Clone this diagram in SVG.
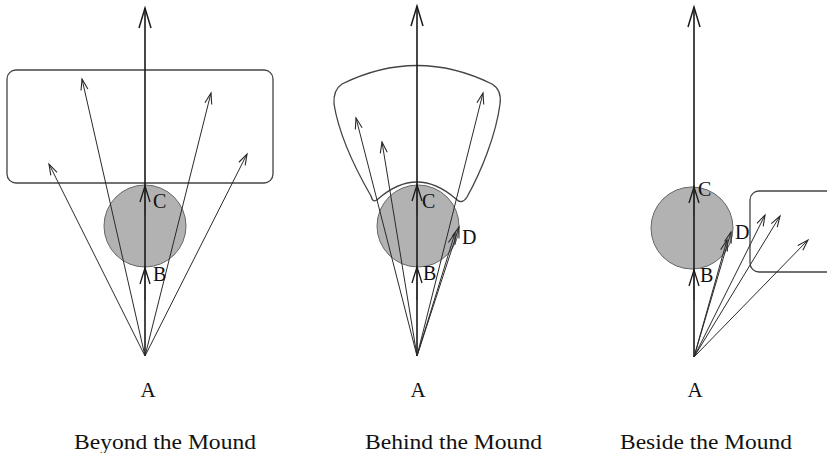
<svg xmlns="http://www.w3.org/2000/svg" width="827" height="453" viewBox="0 0 827 453">
<style>
.ln{stroke:#2a2a2a;stroke-width:1;fill:none}
.main{stroke:#1a1a1a;stroke-width:1.6;fill:none}
.reg{stroke:#444;stroke-width:1.3;fill:none}
.mound{fill:#b2b2b2;stroke:#666;stroke-width:1}
.lbl{font-family:"Liberation Serif","Times New Roman",serif;font-size:20px;fill:#111}
.big{font-family:"Liberation Serif","Times New Roman",serif;font-size:21px;fill:#111}
.cap{font-family:"Liberation Serif","Times New Roman",serif;font-size:21px;fill:#111}
</style>
<defs>
<marker id="big" markerUnits="userSpaceOnUse" markerWidth="24" markerHeight="14" refX="20" refY="6" orient="auto" overflow="visible">
<path d="M0,0 L20,6 L0,12" fill="none" stroke="#1a1a1a" stroke-width="1.5"/>
</marker>
<marker id="mid" markerUnits="userSpaceOnUse" markerWidth="20" markerHeight="12" refX="16" refY="5" orient="auto" overflow="visible">
<path d="M0,0 L16,5 L0,10" fill="none" stroke="#1a1a1a" stroke-width="1.3"/>
</marker>
<marker id="sm" markerUnits="userSpaceOnUse" markerWidth="14" markerHeight="10" refX="11" refY="3.5" orient="auto" overflow="visible">
<path d="M0,0 L11,3.5 L0,7" fill="none" stroke="#2a2a2a" stroke-width="1.1"/>
</marker>
</defs>

<!-- Panel 1: Beyond the Mound -->
<g id="region1"><rect class="reg" x="7" y="70" width="266" height="113" rx="9"/></g>
<g id="mound1"><circle class="mound" cx="145" cy="226" r="41"/></g>
<g id="connectors1">
<path class="main" d="M145,356 L145,8" marker-end="url(#big)"/>
<path class="ln" d="M145,300 L145,268" marker-end="url(#mid)"/>
<path class="ln" d="M145,215 L145,186" marker-end="url(#mid)"/>
<path class="ln" d="M145,356 L49,164" marker-end="url(#sm)"/>
<path class="ln" d="M145,356 L82,79" marker-end="url(#sm)"/>
<path class="ln" d="M145,356 L211,93" marker-end="url(#sm)"/>
<path class="ln" d="M145,356 L247,154" marker-end="url(#sm)"/>
</g>
<g id="A1"><text class="big" x="148" y="397" text-anchor="middle">A</text></g>
<g id="B1"><text class="lbl" x="153" y="281">B</text></g>
<g id="C1"><text class="lbl" x="153" y="208">C</text></g>
<g id="cap1"><text class="cap" x="74" y="449" textLength="182" lengthAdjust="spacingAndGlyphs">Beyond the Mound</text></g>

<!-- Panel 2: Behind the Mound -->
<g id="region2"><path class="reg" d="M342,84 Q417,47 492,84 Q502,90 500,104 C496,135 481,172 467,197 Q462,205 456,199 Q417,165 378,199 Q373,204 371,196 C356,170 339,135 334,104 Q333,90 342,84 Z"/></g>
<g id="mound2"><circle class="mound" cx="418" cy="226" r="41"/></g>
<g id="connectors2">
<path class="main" d="M417,356 L417,6" marker-end="url(#big)"/>
<path class="ln" d="M417,300 L417,267" marker-end="url(#mid)"/>
<path class="ln" d="M417,215 L417,185" marker-end="url(#mid)"/>
<path class="ln" d="M417,356 L356,118" marker-end="url(#sm)"/>
<path class="ln" d="M417,356 L382,142" marker-end="url(#sm)"/>
<path class="ln" d="M417,356 L483,93" marker-end="url(#sm)"/>
<path class="ln" d="M417,356 L459,227" marker-end="url(#sm)"/>
<path class="ln" d="M417,356 L455,233" marker-end="url(#sm)"/>
</g>
<g id="A2"><text class="big" x="418" y="397" text-anchor="middle">A</text></g>
<g id="B2"><text class="lbl" x="423" y="280">B</text></g>
<g id="C2"><text class="lbl" x="422" y="208">C</text></g>
<g id="D2"><text class="lbl" x="462" y="244">D</text></g>
<g id="cap2"><text class="cap" x="365" y="449" textLength="177" lengthAdjust="spacingAndGlyphs">Behind the Mound</text></g>

<!-- Panel 3: Beside the Mound -->
<g id="region3"><rect class="reg" x="750" y="191" width="110" height="81" rx="9"/></g>
<g id="mound3"><circle class="mound" cx="692" cy="228" r="41"/></g>
<g id="connectors3">
<path class="main" d="M694,357 L694,7" marker-end="url(#big)"/>
<path class="ln" d="M694,300 L694,270" marker-end="url(#mid)"/>
<path class="ln" d="M694,215 L694,187" marker-end="url(#mid)"/>
<path class="ln" d="M694,357 L731,232" marker-end="url(#sm)"/>
<path class="ln" d="M694,357 L727,240" marker-end="url(#sm)"/>
<path class="ln" d="M694,357 L765,215" marker-end="url(#sm)"/>
<path class="ln" d="M694,357 L780,216" marker-end="url(#sm)"/>
<path class="ln" d="M694,357 L808,240" marker-end="url(#sm)"/>
</g>
<g id="A3"><text class="big" x="695" y="397" text-anchor="middle">A</text></g>
<g id="B3"><text class="lbl" x="700" y="282">B</text></g>
<g id="C3"><text class="lbl" x="698" y="196">C</text></g>
<g id="D3"><text class="lbl" x="735" y="239">D</text></g>
<g id="cap3"><text class="cap" x="620" y="449" textLength="172" lengthAdjust="spacingAndGlyphs">Beside the Mound</text></g>
</svg>
